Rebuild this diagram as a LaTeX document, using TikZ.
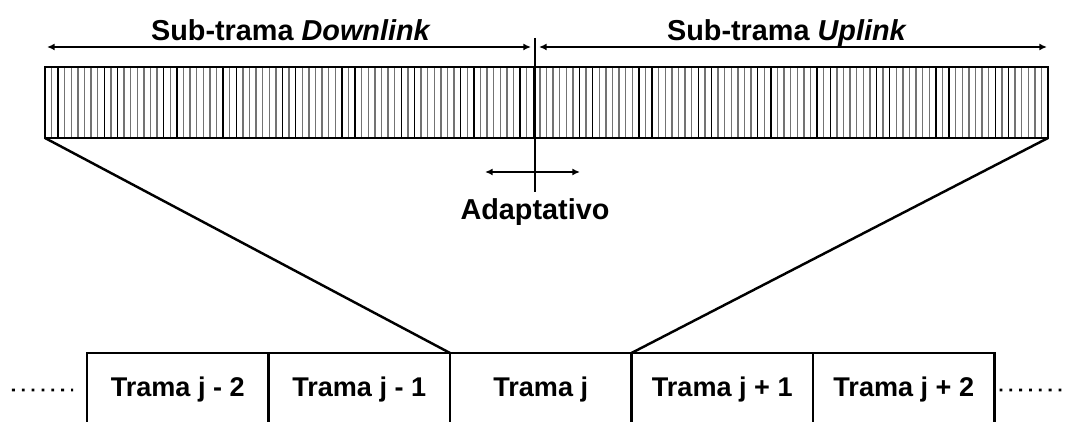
\documentclass[tikz,border=0pt]{standalone}
\usepackage{fontspec}
\setmainfont{Liberation Sans}
\usetikzlibrary{positioning,arrows.meta}

\begin{document}
\begin{tikzpicture}[
  trama/.style={rectangle, draw, line width=0.8pt, outer sep=0pt, minimum width=1.815cm, minimum height=0.74cm, inner sep=0pt, font=\fontsize{7.7}{9}\selectfont\bfseries},
  titulo/.style={font=\fontsize{8.2}{10}\selectfont\bfseries, inner sep=0pt},
  flecha/.style={line width=0.45pt, {Latex[length=2.2pt,width=2pt]}-{Latex[length=2.2pt,width=2pt]}},
  puntos/.style={line width=0.8pt, dash pattern=on 0.8pt off 2pt},
  raya/.style={line width=0.4pt}
]
\useasboundingbox (0,0) rectangle (10.65,4.22);

% Trama expandida
\node[rectangle, draw, line width=0.7pt, outer sep=0pt, minimum width=10.03cm, minimum height=0.71cm] (barra) at (5.465,3.195) {};
\foreach \i in {1,...,151} {
  \pgfmathsetmacro{\xr}{0.45+\i*10.03/152}
  \pgfmathtruncatemacro{\esnegra}{mod(\i*5,9)<2 ? 1 : 0}
  \ifnum\esnegra=1 \def\colraya{black}\else \def\colraya{black!55}\fi
  \draw[raya, draw=\colraya] (\xr,2.84) -- (\xr,3.55);
}
\node[rectangle, draw, line width=0.7pt, outer sep=0pt, minimum width=10.03cm, minimum height=0.71cm] at (barra) {};

% Division y flechas
\coordinate (sup) at (5.35,3.84);
\coordinate (inf) at (5.35,2.30);
\draw[line width=0.45pt] (sup) -- (inf);
\coordinate (dl1) at (0.47,3.75);
\coordinate (dl2) at (5.31,3.75);
\coordinate (ul1) at (5.39,3.75);
\coordinate (ul2) at (10.47,3.75);
\draw[flecha] (dl1) -- (dl2);
\draw[flecha] (ul1) -- (ul2);
\node[titulo, anchor=base] (down) at (2.91,3.81) {Sub-trama \textit{Downlink}};
\node[titulo, anchor=base] (up) at (7.87,3.81) {Sub-trama \textit{Uplink}};

\coordinate (ad1) at (4.85,2.50);
\coordinate (ad2) at (5.80,2.50);
\draw[flecha] (ad1) -- (ad2);
\node[titulo, anchor=base] (adap) at (5.35,2.02) {Adaptativo};

% Tramas
\node[trama, anchor=north west] (t1) at (0.87,0.69) {Trama j - 2};
\node[trama, right=0pt of t1] (t2) {Trama j - 1};
\node[trama, right=0pt of t2] (t3) {Trama j};
\node[trama, right=0pt of t3] (t4) {Trama j + 1};
\node[trama, right=0pt of t4] (t5) {Trama j + 2};

\coordinate (izq) at (0.12,0.32);
\coordinate (der) at (10.62,0.32);
\draw[puntos] (izq) -- ([xshift=-0.14cm]t1.west);
\draw[puntos] ([xshift=0.05cm]t5.east) -- (der);

% Lineas de expansion
\draw[line width=0.7pt] (barra.south west) -- (t3.north west);
\draw[line width=0.7pt] (barra.south east) -- (t4.north west);
\end{tikzpicture}
\end{document}
